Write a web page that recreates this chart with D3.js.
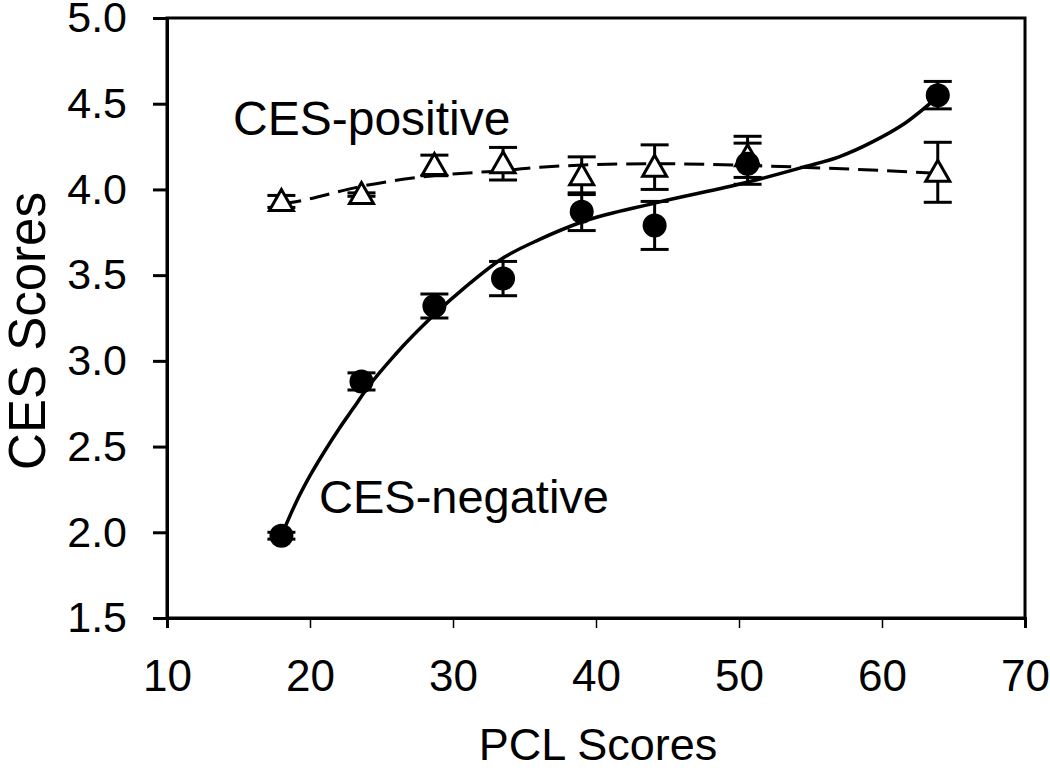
<!DOCTYPE html>
<html>
<head>
<meta charset="utf-8">
<script src="https://cdn.jsdelivr.net/npm/d3@7"></script>
<style>
  html, body { margin: 0; padding: 0; background: #fff; }
  svg { display: block; font-family: "Liberation Sans", Arial, sans-serif; }
</style>
</head>
<body>
<svg id="chart" width="1050" height="770"></svg>
<script>
// ---- data ----
const pclX = [18, 23.6, 28.7, 33.5, 39.0, 44.1, 50.6, 63.9];
const negMean = [1.98, 2.88, 3.32, 3.48, 3.87, 3.79, 4.15, 4.55];
const negErr  = [0.02, 0.05, 0.07, 0.10, 0.11, 0.14, 0.12, 0.08];
const posMean = [3.93, 3.97, 4.14, 4.15, 4.08, 4.13, 4.19, 4.10];
const posErr  = [0.035, 0.01, 0.06, 0.095, 0.11, 0.13, 0.12, 0.175];

// fitted trend lines
const fitNegX = [18, 19, 20, 21, 22, 23, 24, 26, 28.7, 31, 33.5, 36.1, 39, 44.1, 50.5, 54.5, 57, 59.4, 61.5, 63.9];
const fitNegY = [1.98, 2.17, 2.33, 2.47, 2.60, 2.72, 2.84, 3.04, 3.27, 3.44, 3.60, 3.71, 3.81, 3.92, 4.04, 4.13, 4.19, 4.28, 4.38, 4.54];
const fitPosX = [18, 19.1, 23.7, 28.6, 33.5, 36.1, 44.1, 50.6, 55.9, 63.8];
const fitPosY = [3.915, 3.93, 4.02, 4.08, 4.11, 4.13, 4.15, 4.14, 4.125, 4.095];

const xTicks = [10, 20, 30, 40, 50, 60, 70];
const yTicks = [1.5, 2.0, 2.5, 3.0, 3.5, 4.0, 4.5, 5.0];

// ---- layout ----
const svg = d3.select("#chart");
const L = 167, R = 1025, T = 18, B = 618;
const x = d3.scaleLinear().domain([10, 70]).range([L, R]);
const y = d3.scaleLinear().domain([1.5, 5.0]).range([B, T]);

// frame
svg.append("rect").attr("x", L).attr("y", T).attr("width", R - L).attr("height", B - T)
  .attr("fill", "none").attr("stroke", "#000").attr("stroke-width", 3);

// y axis
const yAxis = svg.append("g").attr("transform", `translate(${L},0)`)
  .call(d3.axisLeft(y).tickValues(yTicks).tickFormat(d3.format(".1f")).tickSize(14).tickPadding(26));
yAxis.select(".domain").attr("stroke-width", 3);
yAxis.selectAll(".tick line").attr("stroke-width", 3);
yAxis.selectAll(".tick text").attr("font-size", 43).attr("font-family", "Liberation Sans, Arial, sans-serif").attr("fill", "#000");

// x axis
const xAxis = svg.append("g").attr("transform", `translate(0,${B})`)
  .call(d3.axisBottom(x).tickValues(xTicks).tickFormat(d3.format("d")).tickSize(10).tickPadding(32));
xAxis.select(".domain").attr("stroke-width", 3);
xAxis.selectAll(".tick line").attr("stroke-width", 1.5);
xAxis.selectAll(".tick text").attr("font-size", 44).attr("font-family", "Liberation Sans, Arial, sans-serif").attr("fill", "#000");

// axis titles
svg.append("text").attr("x", 598).attr("y", 760).attr("text-anchor", "middle")
  .attr("font-size", 45).text("PCL Scores");
svg.append("text").attr("transform", `translate(45,331) rotate(-90)`).attr("text-anchor", "middle")
  .attr("font-size", 51).text("CES Scores");

// fit lines
const line = d3.line().x(d => x(d[0])).y(d => y(d[1])).curve(d3.curveMonotoneX);
svg.append("path").datum(fitPosX.map((v, i) => [v, fitPosY[i]]))
  .attr("d", line).attr("fill", "none").attr("stroke", "#000").attr("stroke-width", 3)
  .attr("stroke-dasharray", "20,9");
svg.append("path").datum(fitNegX.map((v, i) => [v, fitNegY[i]]))
  .attr("d", line).attr("fill", "none").attr("stroke", "#000").attr("stroke-width", 3.5);

// error bars
function errorBars(means, errs) {
  const g = svg.append("g").attr("stroke", "#000").attr("stroke-width", 3);
  pclX.forEach((px, i) => {
    const cx = x(px), y0 = y(means[i] - errs[i]), y1 = y(means[i] + errs[i]);
    g.append("line").attr("x1", cx).attr("x2", cx).attr("y1", y0).attr("y2", y1);
    g.append("line").attr("x1", cx - 14).attr("x2", cx + 14).attr("y1", y0).attr("y2", y0);
    g.append("line").attr("x1", cx - 14).attr("x2", cx + 14).attr("y1", y1).attr("y2", y1);
  });
}
errorBars(posMean, posErr);
errorBars(negMean, negErr);

// triangles (CES-positive)
const tri = "M0,-12 L12,9 L-12,9 Z";
svg.append("g").selectAll("path").data(pclX).join("path")
  .attr("transform", (d, i) => `translate(${x(d)},${y(posMean[i])})`)
  .attr("d", tri).attr("fill", "#fff").attr("stroke", "#000").attr("stroke-width", 3);

// circles (CES-negative)
svg.append("g").selectAll("circle").data(pclX).join("circle")
  .attr("cx", d => x(d)).attr("cy", (d, i) => y(negMean[i])).attr("r", 12).attr("fill", "#000");

// series labels
svg.append("text").attr("x", 233).attr("y", 135).attr("font-size", 48).text("CES-positive");
svg.append("text").attr("x", 319).attr("y", 513).attr("font-size", 47).text("CES-negative");
</script>
</body>
</html>
